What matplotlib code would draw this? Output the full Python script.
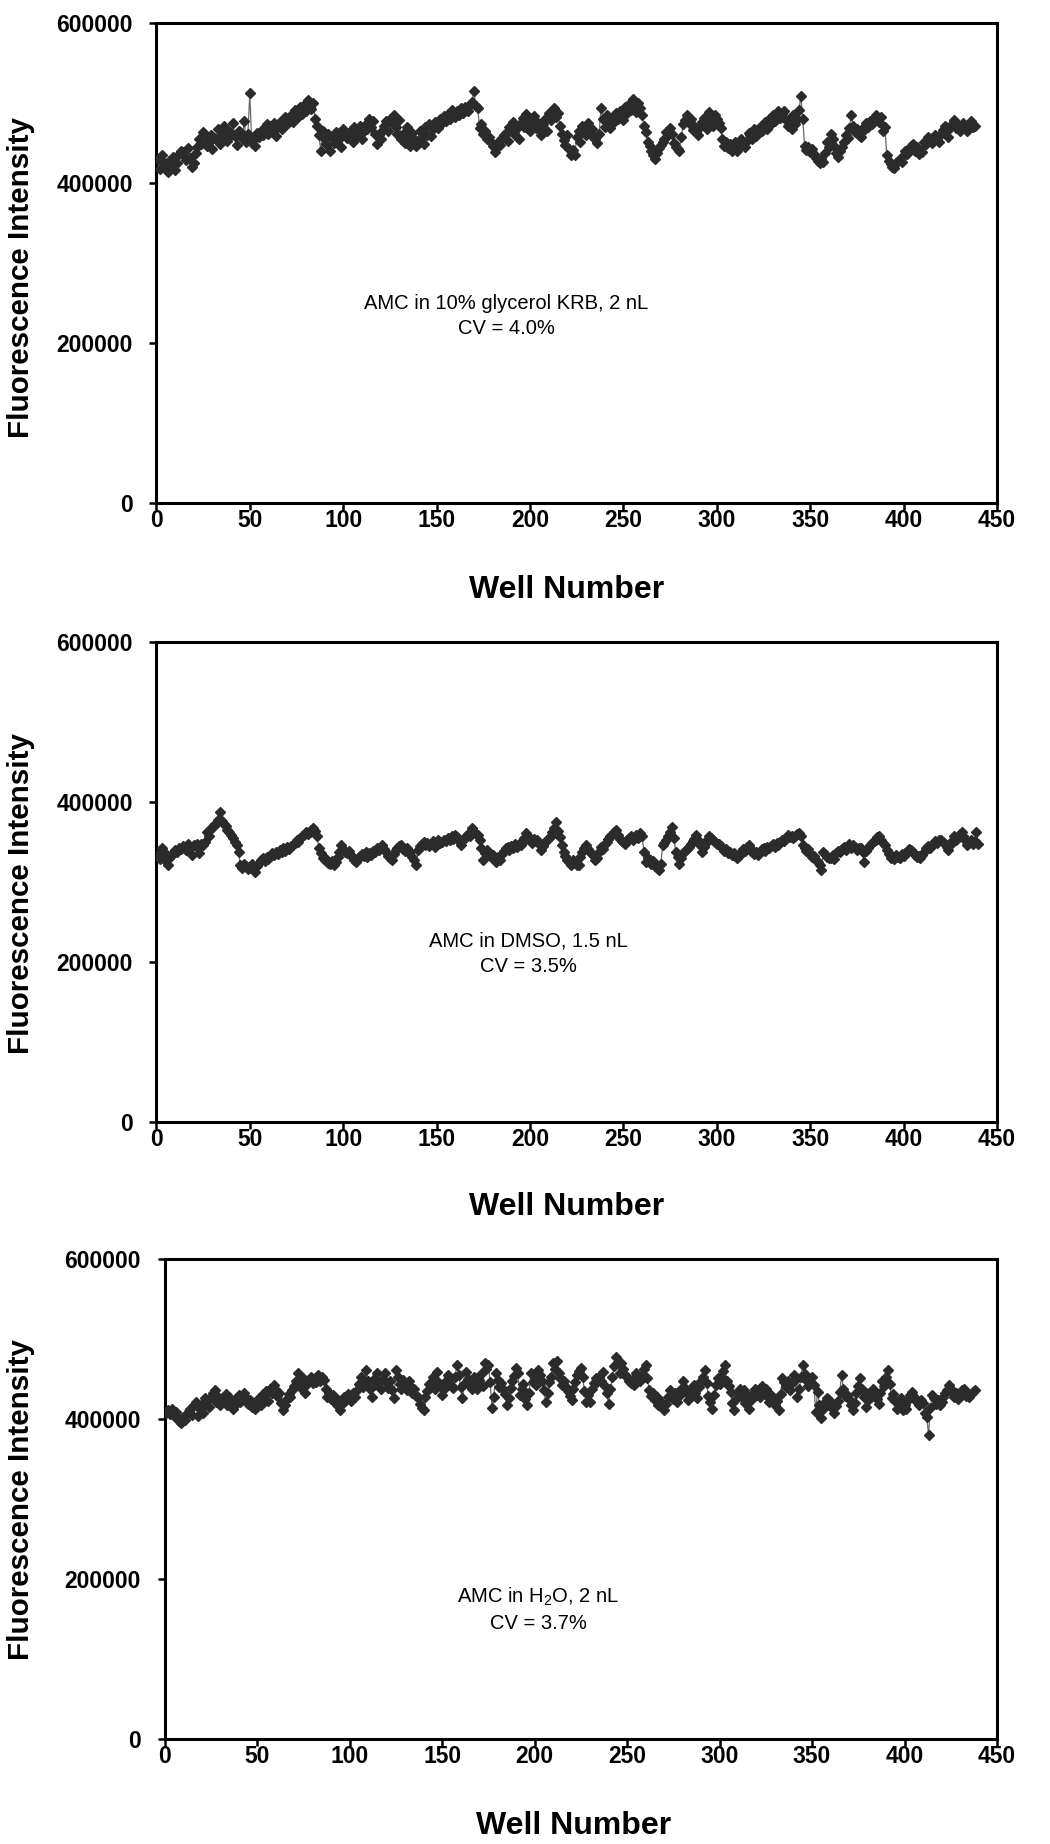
import matplotlib
matplotlib.use("Agg")
import matplotlib.pyplot as plt
import numpy as np

plt.rcParams['font.family'] = ['Liberation Sans', 'DejaVu Sans']
plt.rcParams['mathtext.fontset'] = 'custom'
plt.rcParams['mathtext.rm'] = 'Liberation Sans'

# Fluorescence intensity per well, in thousands
glycerol_k = [
    431, 418, 436, 425, 420, 414, 428, 422, 433, 417, 426, 437, 441, 439, 434, 429, 444, 432, 421, 425,
    438, 446, 455, 449, 464, 459, 447, 452, 461, 443, 457, 456, 468, 449, 461, 472, 458, 453, 466, 460,
    475, 459, 448, 466, 464, 457, 478, 452, 462, 513, 451, 456, 447, 463, 458, 466, 461, 470, 474, 462,
    472, 468, 475, 459, 471, 477, 468, 479, 483, 474, 481, 486, 477, 492, 489, 483, 495, 487, 498, 491,
    504, 497, 493, 500, 481, 472, 460, 441, 466, 455, 449, 462, 441, 458, 451, 464, 454, 460, 446, 468,
    461, 457, 463, 466, 452, 470, 459, 465, 472, 456, 466, 474, 468, 481, 470, 478, 462, 449, 460, 455,
    466, 472, 478, 465, 481, 476, 485, 470, 462, 479, 456, 462, 450, 470, 458, 447, 463, 455, 447, 452,
    466, 458, 449, 470, 461, 474, 459, 468, 477, 472, 469, 481, 476, 484, 478, 487, 481, 492, 489, 483,
    490, 486, 494, 488, 496, 494, 490, 498, 502, 516, 497, 494, 469, 474, 462, 466, 455, 458, 452, 447,
    439, 446, 452, 448, 457, 460, 463, 453, 470, 465, 477, 461, 469, 456, 475, 482, 470, 487, 478, 465,
    472, 484, 469, 477, 469, 460, 474, 481, 466, 488, 479, 485, 494, 483, 488, 472, 462, 454, 448, 460,
    443, 435, 442, 436, 458, 465, 452, 472, 466, 461, 475, 463, 468, 457, 456, 451, 462, 494, 481, 470,
    485, 474, 469, 482, 477, 488, 480, 491, 485, 479, 495, 488, 499, 492, 506, 498, 489, 501, 494, 485,
    472, 464, 452, 447, 440, 436, 431, 438, 444, 448, 452, 456, 464, 460, 469, 462, 451, 446, 443, 441,
    458, 474, 479, 485, 476, 480, 467, 472, 464, 461, 470, 477, 482, 474, 468, 489, 478, 472, 485, 481,
    476, 469, 455, 447, 452, 444, 449, 440, 447, 452, 441, 446, 456, 449, 445, 453, 463, 460, 455, 468,
    459, 464, 471, 466, 472, 477, 468, 480, 474, 485, 478, 485, 490, 482, 487, 491, 479, 472, 481, 468,
    485, 474, 480, 492, 509, 481, 447, 442, 446, 439, 443, 437, 432, 428, 425, 430, 427, 438, 452, 446,
    462, 455, 447, 438, 433, 441, 446, 452, 460, 457, 469, 485, 472, 464, 468, 461, 458, 466, 470, 475,
    471, 478, 474, 481, 485, 481, 477, 483, 466, 470, 435, 428, 424, 421, 419, 425, 428, 431, 427, 436,
    440, 437, 443, 447, 449, 441, 446, 437, 442, 439, 452, 449, 458, 454, 450, 457, 461, 456, 452, 462,
    467, 472, 465, 458, 470, 474, 479, 469, 473, 466, 471, 476, 471, 466, 474, 478, 470, 472,
]

dmso_k = [
    334, 329, 342, 338, 326, 321, 330, 333, 336, 340, 338, 343, 341, 345, 344, 340, 347, 343, 334, 346,
    345, 348, 336, 347, 346, 350, 363, 358, 366, 369, 371, 373, 378, 388, 376, 372, 370, 365, 362, 359,
    355, 350, 346, 337, 321, 318, 323, 320, 316, 319, 322, 317, 313, 320, 324, 327, 330, 326, 331, 329,
    333, 336, 334, 338, 335, 340, 337, 342, 339, 344, 341, 345, 346, 349, 352, 350, 355, 358, 359, 362,
    360, 363, 365, 367, 364, 357, 342, 336, 330, 327, 329, 324, 322, 326, 321, 325, 331, 338, 346, 341,
    338, 336, 339, 334, 330, 327, 325, 329, 332, 335, 333, 338, 331, 336, 334, 339, 337, 342, 340, 344,
    346, 341, 337, 332, 330, 328, 335, 340, 343, 345, 346, 341, 339, 342, 336, 338, 331, 327, 321, 340,
    345, 347, 350, 346, 349, 345, 348, 351, 344, 348, 352, 349, 350, 353, 351, 355, 352, 357, 354, 359,
    356, 351, 346, 352, 355, 357, 360, 358, 367, 363, 360, 359, 352, 342, 328, 336, 340, 334, 331, 334,
    329, 325, 331, 328, 335, 339, 342, 344, 340, 345, 343, 347, 344, 348, 346, 350, 355, 361, 357, 352,
    349, 354, 351, 353, 347, 340, 345, 350, 352, 355, 358, 363, 368, 375, 364, 356, 346, 338, 333, 328,
    325, 321, 327, 324, 321, 321, 331, 338, 343, 346, 341, 338, 335, 333, 328, 330, 337, 344, 341, 347,
    350, 354, 357, 359, 362, 365, 359, 354, 351, 350, 347, 353, 355, 357, 352, 356, 359, 355, 361, 357,
    338, 325, 330, 327, 323, 326, 320, 318, 315, 322, 346, 349, 352, 358, 362, 369, 355, 338, 331, 323,
    330, 336, 339, 341, 344, 347, 351, 354, 359, 352, 346, 338, 344, 349, 353, 357, 355, 352, 350, 347,
    348, 345, 343, 339, 341, 336, 338, 334, 336, 332, 330, 333, 337, 341, 339, 344, 346, 342, 338, 335,
    337, 334, 338, 341, 343, 339, 344, 342, 345, 347, 344, 349, 346, 350, 353, 351, 355, 359, 356, 358,
    355, 358, 360, 361, 357, 346, 343, 339, 341, 336, 331, 333, 328, 325, 321, 315, 338, 335, 331, 330,
    330, 334, 329, 336, 339, 338, 341, 344, 340, 345, 348, 343, 346, 344, 340, 343, 342, 337, 325, 339,
    343, 346, 349, 351, 353, 356, 357, 352, 349, 346, 340, 335, 330, 333, 329, 334, 331, 330, 335, 332,
    336, 338, 341, 340, 337, 334, 331, 333, 330, 334, 338, 342, 345, 343, 346, 348, 351, 349, 352, 353,
    350, 347, 344, 340, 346, 351, 357, 352, 355, 360, 363, 358, 352, 346, 349, 353, 347, 351, 362, 348,
]

water_k = [
    408, 411, 406, 413, 404, 409, 400, 397, 395, 402, 399, 406, 410, 413, 405, 418, 421, 404, 412, 419,
    408, 426, 424, 415, 428, 432, 436, 421, 428, 417, 425, 424, 431, 418, 427, 422, 413, 417, 426, 430,
    421, 428, 432, 426, 419, 424, 415, 420, 413, 422, 426, 418, 431, 428, 435, 423, 438, 433, 442, 436,
    429, 433, 420, 411, 418, 425, 431, 428, 436, 441, 448, 457, 446, 439, 451, 432, 444, 449, 453, 445,
    450, 446, 455, 448, 453, 449, 437, 428, 433, 425, 430, 421, 418, 424, 411, 419, 428, 424, 431, 426,
    422, 433, 428, 436, 444, 453, 440, 449, 461, 447, 438, 428, 443, 451, 457, 446, 438, 450, 457, 445,
    439, 448, 436, 426, 461, 452, 444, 438, 449, 443, 436, 447, 440, 432, 438, 429, 428, 419, 414, 411,
    427, 435, 444, 440, 452, 437, 459, 446, 441, 430, 438, 447, 455, 451, 443, 439, 452, 467, 455, 440,
    426, 444, 459, 450, 441, 437, 452, 445, 438, 449, 456, 441, 470, 462, 468, 446, 414, 428, 457, 449,
    440, 445, 438, 431, 417, 426, 439, 447, 454, 464, 458, 430, 437, 444, 425, 417, 432, 457, 446, 451,
    443, 461, 455, 448, 436, 421, 433, 446, 452, 470, 463, 472, 458, 451, 443, 447, 440, 435, 429, 424,
    438, 446, 455, 460, 464, 452, 435, 421, 430, 421, 438, 445, 451, 446, 453, 448, 459, 441, 432, 419,
    437, 452, 466, 478, 471, 458, 470, 463, 455, 453, 448, 445, 450, 442, 458, 451, 447, 455, 462, 468,
    451, 436, 429, 433, 424, 428, 418, 422, 415, 411, 419, 428, 436, 430, 425, 432, 421, 429, 438, 447,
    440, 434, 424, 431, 437, 442, 433, 426, 440, 447, 453, 461, 445, 429, 421, 413, 430, 442, 451, 444,
    452, 460, 468, 447, 441, 434, 420, 411, 425, 432, 438, 427, 436, 420, 429, 413, 424, 433, 438, 430,
    436, 427, 441, 432, 437, 428, 421, 430, 426, 417, 422, 411, 431, 451, 446, 440, 448, 436, 445, 455,
    449, 428, 437, 452, 468, 456, 449, 441, 446, 453, 442, 409, 434, 418, 401, 412, 421, 426, 424, 415,
    419, 407, 416, 422, 434, 455, 437, 429, 430, 425, 418, 411, 420, 433, 441, 451, 437, 428, 415, 424,
    432, 427, 438, 430, 425, 419, 433, 447, 441, 452, 461, 444, 426, 431, 422, 413, 420, 426, 411, 418,
    412, 424, 430, 434, 428, 425, 421, 417, 424, 420, 408, 403, 380, 414, 430, 426, 419, 424, 417, 421,
    428, 433, 436, 442, 437, 431, 428, 433, 425, 430, 436, 438, 429, 433, 427, 431, 434, 436,
]

labels = ["AMC in 10% glycerol KRB, 2 nL\nCV = 4.0%",
          "AMC in DMSO, 1.5 nL\nCV = 3.5%",
          "AMC in H$\\mathregular{_2}$O, 2 nL\nCV = 3.7%"]
x_ticks = [0, 50, 100, 150, 200, 250, 300, 350, 400, 450]
y_ticks = [0, 200000, 400000, 600000]

W, H = 1050, 1844
fig = plt.figure(figsize=(W / 100, H / 100), dpi=100)

# axes boxes in pixels: left, right, top, bottom
boxes = [(156.4, 997, 23.5, 503), (156.4, 997, 642, 1122), (164.6, 997, 1259, 1739)]
label_pos = [(0.416, 0.39), (0.443, 0.35), (0.449, 0.27)]
ylabel_y = [277, 893, 1499]
xlabel_pos = [(567, 590), (567, 1207), (574, 1826)]
series = [glycerol_k, dmso_k, water_k]

for i, ((l, r, t, b), data, lab, lp) in enumerate(zip(boxes, series, labels, label_pos)):
    ax = fig.add_axes([l / W, 1 - b / H, (r - l) / W, (b - t) / H])
    vals = np.array(data) * 1000
    wells = np.arange(1, len(vals) + 1)
    ax.plot(wells, vals, color='#6a6a6a', lw=0.9, zorder=2)
    ax.plot(wells, vals, ls='none', marker='D', ms=5.4, color='#2b2b2b',
            mec='#2b2b2b', zorder=3)
    ax.set_xlim(0, 450)
    ax.set_ylim(0, 600000)
    ax.set_xticks(x_ticks)
    ax.set_yticks(y_ticks)
    ax.set_yticklabels([str(v) for v in y_ticks])
    for s in ax.spines.values():
        s.set_linewidth(2.2)
        s.set_color('black')
    ax.tick_params(direction='out', length=5, width=1.8, labelsize=16.5)
    ax.tick_params(axis='y', pad=12)
    ax.tick_params(axis='x', pad=-1)
    for tl in ax.get_xticklabels() + ax.get_yticklabels():
        tl.set_fontweight('bold')
    fig.text(21 / W, 1 - ylabel_y[i] / H, 'Fluorescence Intensity', rotation=90,
             ha='center', va='center', fontsize=21.3, fontweight='bold')
    fig.text(xlabel_pos[i][0] / W, 1 - xlabel_pos[i][1] / H, 'Well Number',
             ha='center', va='center', fontsize=23, fontweight='bold')
    ax.text(lp[0], lp[1], lab, transform=ax.transAxes, ha='center', va='center',
            fontsize=14.5, multialignment='center', linespacing=1.45)

fig.savefig('out.png', dpi=100)
